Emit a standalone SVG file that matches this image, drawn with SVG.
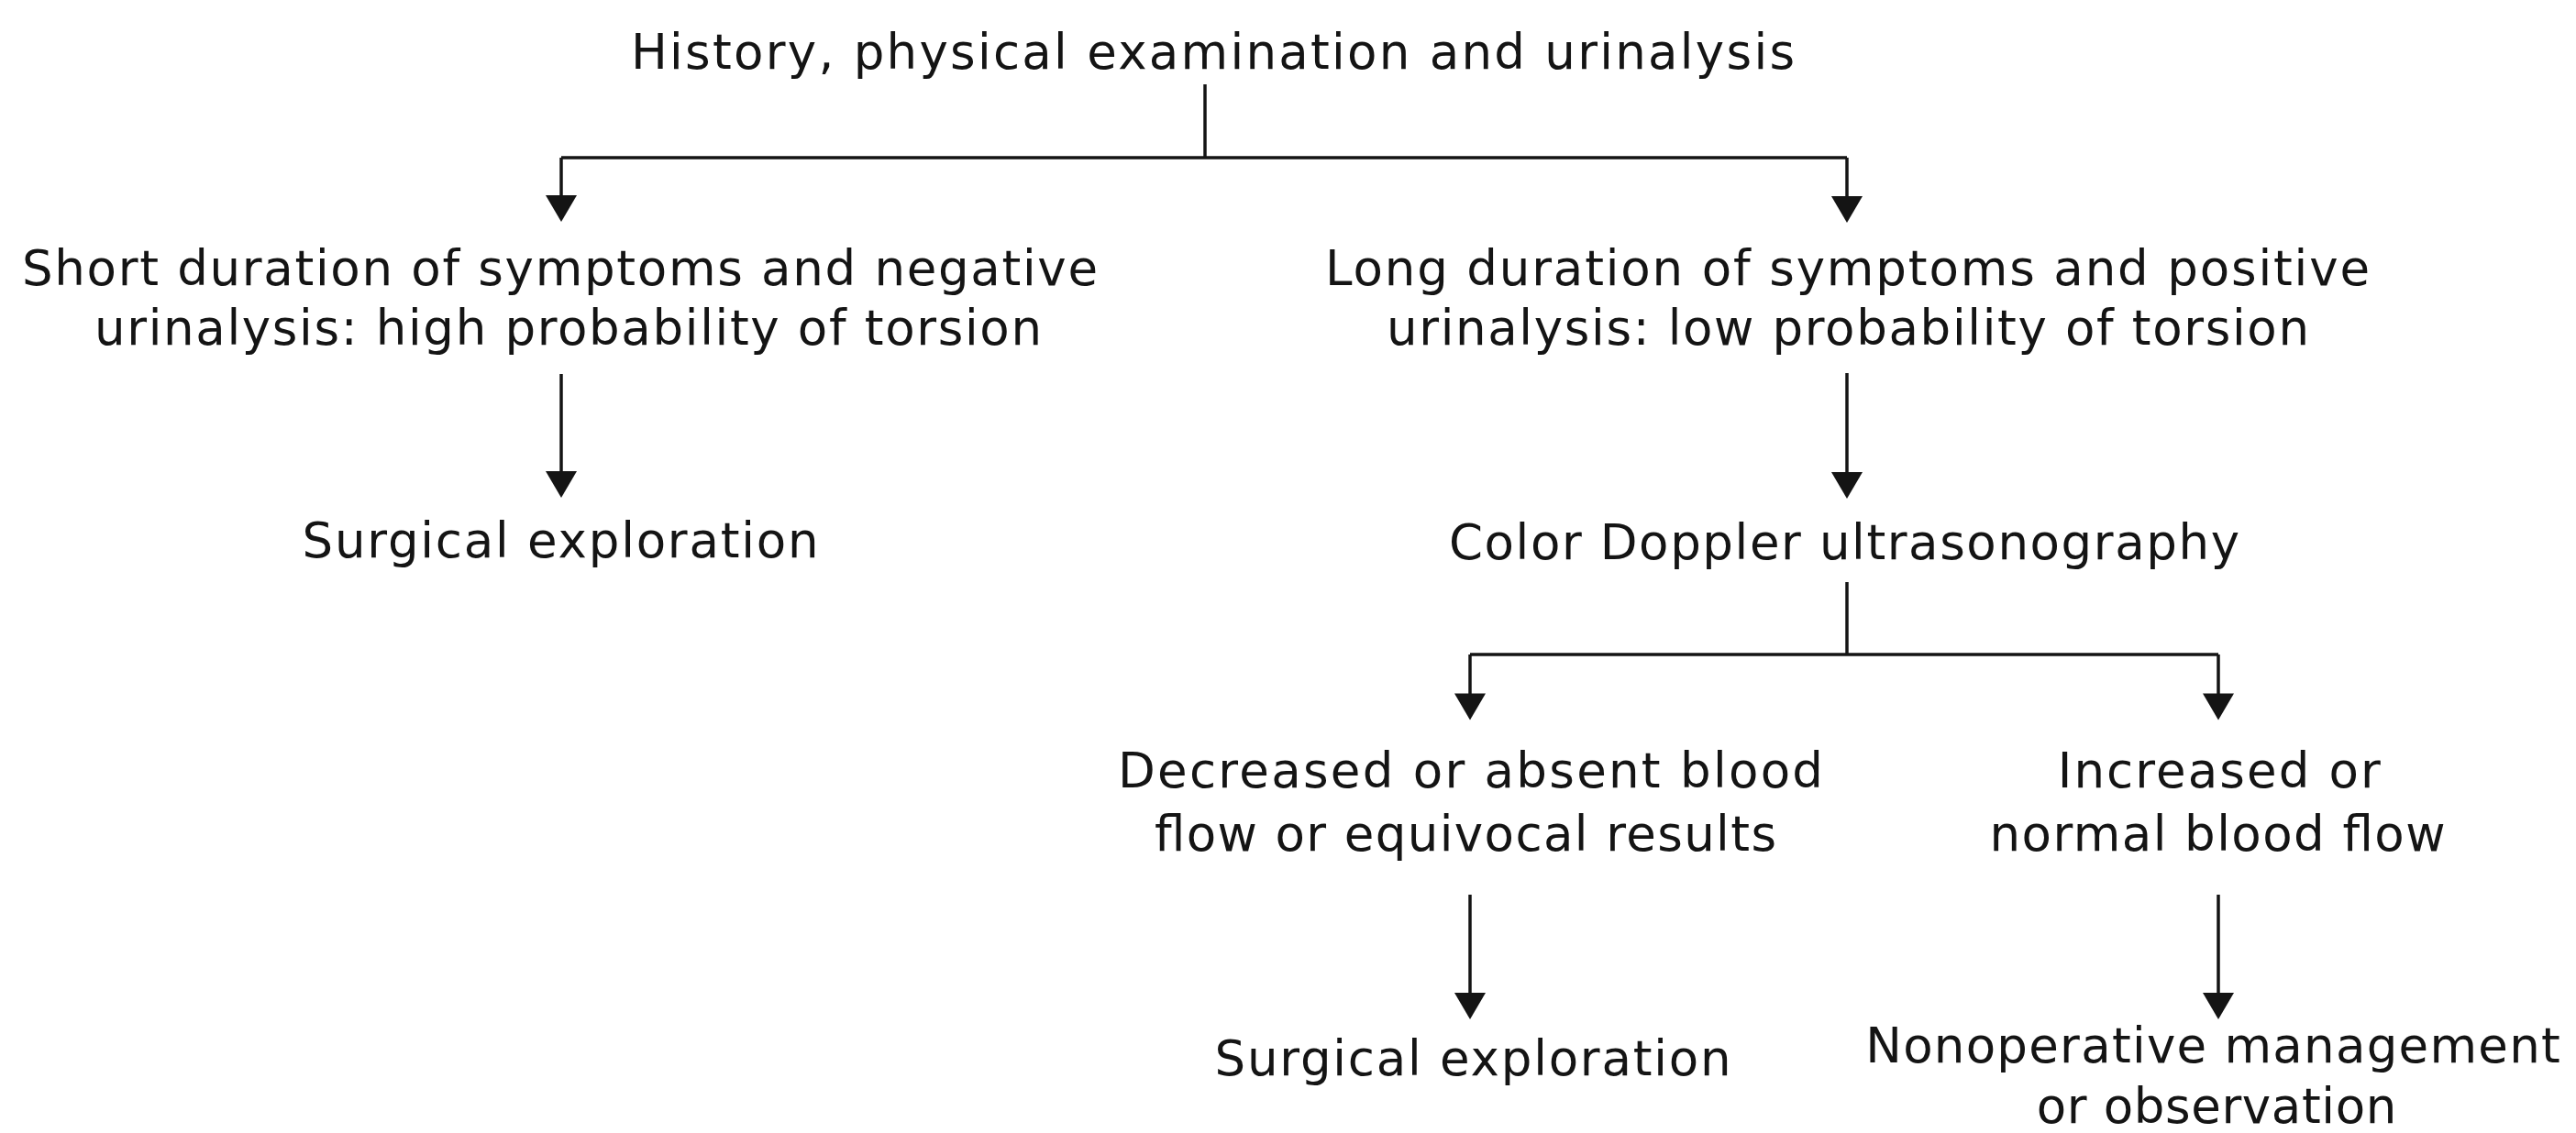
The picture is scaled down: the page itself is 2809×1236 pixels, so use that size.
<svg xmlns="http://www.w3.org/2000/svg" width="2809" height="1236" viewBox="0 0 2809 1236">
<style>
text{font-family:"DejaVu Sans","Liberation Sans",Arial,sans-serif;font-size:53px;fill:#141414;text-anchor:middle}
.c{stroke:#141414;stroke-width:3.5;fill:none}
</style>
<defs>
<marker id="ah" markerUnits="userSpaceOnUse" markerWidth="34" markerHeight="34" refX="19" refY="17" orient="auto" viewBox="0 0 29 34">
<path d="M0,0 L29,17 L0,34 Z" fill="#141414"/>
</marker>
</defs>
<rect width="2809" height="1236" fill="#fff"/>
<g id="connectors">
<path class="c" d="M1314,92 V172"/>
<path class="c" d="M612,172 H2014"/>
<path class="c" d="M612,172 V232" marker-end="url(#ah)"/>
<path class="c" d="M2014,172 V233" marker-end="url(#ah)"/>
<path class="c" d="M612,408 V533" marker-end="url(#ah)"/>
<path class="c" d="M2014,407 V534" marker-end="url(#ah)"/>
<path class="c" d="M2014,635 V714"/>
<path class="c" d="M1603,714 H2419"/>
<path class="c" d="M1603,714 V775.5" marker-end="url(#ah)"/>
<path class="c" d="M2419,714 V775.5" marker-end="url(#ah)"/>
<path class="c" d="M1603,976 V1102" marker-end="url(#ah)"/>
<path class="c" d="M2419,976 V1102" marker-end="url(#ah)"/>
</g>
<g id="n-history"><text x="1322.5" y="75" textLength="1269" lengthAdjust="spacing">History, physical examination and urinalysis</text></g>
<g id="n-short">
<text x="610.5" y="311" textLength="1173" lengthAdjust="spacing">Short duration of symptoms and negative</text>
<text x="619.5" y="376" textLength="1033" lengthAdjust="spacing">urinalysis: high probability of torsion</text>
</g>
<g id="n-long">
<text x="2014.5" y="311" textLength="1139" lengthAdjust="spacing">Long duration of symptoms and positive</text>
<text x="2015" y="376" textLength="1006" lengthAdjust="spacing">urinalysis: low probability of torsion</text>
</g>
<g id="n-surgical1"><text x="611" y="608" textLength="563" lengthAdjust="spacing">Surgical exploration</text></g>
<g id="n-doppler"><text x="2011" y="609.5" textLength="862" lengthAdjust="spacing">Color Doppler ultrasonography</text></g>
<g id="n-decreased">
<text x="1603.5" y="858.5" textLength="769" lengthAdjust="spacing">Decreased or absent blood</text>
<text x="1598" y="928" textLength="678" lengthAdjust="spacing">flow or equivocal results</text>
</g>
<g id="n-increased">
<text x="2419.7" y="858.5" textLength="352" lengthAdjust="spacing">Increased or</text>
<text x="2418" y="928" textLength="497" lengthAdjust="spacing">normal blood flow</text>
</g>
<g id="n-surgical2"><text x="1606" y="1173" textLength="563" lengthAdjust="spacing">Surgical exploration</text></g>
<g id="n-nonoperative">
<text x="2413" y="1159" textLength="757.5" lengthAdjust="spacing">Nonoperative management</text>
<text x="2417" y="1225" textLength="392.6" lengthAdjust="spacing">or observation</text>
</g>
</svg>
